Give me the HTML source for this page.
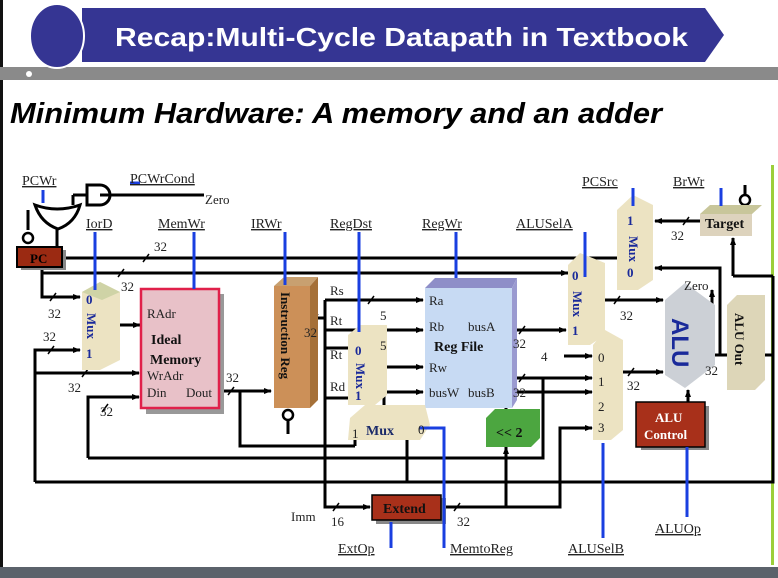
<!DOCTYPE html>
<html><head><style>
html,body{margin:0;padding:0;background:#fff;width:778px;height:578px;overflow:hidden}
svg{display:block}
text{font-family:"Liberation Serif",serif}
</style></head><body>
<svg width="778" height="578" viewBox="0 0 778 578" xmlns="http://www.w3.org/2000/svg">
<defs>
<marker id="a" markerWidth="8" markerHeight="8" refX="7" refY="4" orient="auto" markerUnits="userSpaceOnUse"><path d="M0,1 L8,4 L0,7 z" fill="#000"/></marker>
</defs>
<rect width="778" height="578" fill="#fff"/>
<rect x="0" y="0" width="3" height="578" fill="#111"/>
<rect x="0" y="67" width="778" height="13" fill="#8a8a8a"/>
<polygon points="82,8 705,8 724,35 705,62 82,62" fill="#353593"/>
<ellipse cx="57" cy="36" rx="27" ry="32" fill="#353593" stroke="#fff" stroke-width="2"/>
<circle cx="29" cy="74" r="3" fill="#fff"/>
<text x="115" y="46" font-weight="bold" font-size="26" fill="#fff" textLength="573" lengthAdjust="spacingAndGlyphs" style="font-family:'Liberation Sans',sans-serif">Recap:Multi-Cycle Datapath in Textbook</text>
<text x="10" y="123" font-size="29" font-style="italic" font-weight="bold" fill="#000" textLength="652" lengthAdjust="spacingAndGlyphs" style="font-family:'Liberation Sans',sans-serif">Minimum Hardware: A memory and an adder</text>
<rect x="0" y="567" width="778" height="11" fill="#5b626b"/>
<rect x="771" y="165" width="3" height="400" fill="#9ccf3a"/>

<g stroke="#000" stroke-width="3" fill="none">
<path d="M87,185 h13 a10,10 0 0 1 0,20 h-13 z" fill="#fff"/>
<path d="M73,195 h14"/>
<path d="M100,195 h104"/>
<path d="M35,205 q22,8 45,0 q-5,18 -22,24 q-17,-6 -23,-24z" fill="#fff"/>
<path d="M73,195 v10"/>
<path d="M28,210 v20"/>
<path d="M57,229 v18"/>
<path d="M62,258 h555"/>
<path d="M42,267 v6 h526" marker-end="url(#a)"/>
<path d="M42,273 v24 h38" marker-end="url(#a)"/>
<path d="M100,325 h40" marker-end="url(#a)"/>
<path d="M35,482 V350 h45" marker-end="url(#a)"/>
<path d="M35,373 h104" marker-end="url(#a)"/>
<path d="M88,458 V397 h51" marker-end="url(#a)"/>
<path d="M219,391 h52" marker-end="url(#a)"/>
<path d="M240,391 v55 h115"/>
<path d="M355,446 v-12"/>
<path d="M310,318 h15"/>
<path d="M325,300 V507 h45" marker-end="url(#a)"/>
<path d="M325,300 h98" marker-end="url(#a)"/>
<path d="M325,330 h98" marker-end="url(#a)"/>
<path d="M325,348 h24"/>
<path d="M325,398 h24"/>
<path d="M370,367 h53" marker-end="url(#a)"/>
<path d="M384,405 v-13 h39" marker-end="url(#a)"/>
<path d="M512,330 h54" marker-end="url(#a)"/>
<path d="M512,378 h80" marker-end="url(#a)"/>
<path d="M543,378 v80 H88"/>
<path d="M506,410 V392 h86" marker-end="url(#a)"/>
<path d="M441,507 h119 v-79 h32" marker-end="url(#a)"/>
<path d="M506,507 v-60" marker-end="url(#a)"/>
<path d="M564,356 h28" marker-end="url(#a)"/>
<path d="M590,300 h73" marker-end="url(#a)"/>
<path d="M622,372 h41" marker-end="url(#a)"/>
<path d="M407,440 v42"/>
<path d="M35,482 H773 V276"/>
<path d="M715,355 h12"/>
<path d="M720,355 V268 H655" marker-end="url(#a)"/>
<path d="M712,335 V290" marker-end="url(#a)"/>
<path d="M765,355 h8"/>
<path d="M733,276 h40"/>
<path d="M733,276 V238" marker-end="url(#a)"/>
<path d="M700,221 h-45" marker-end="url(#a)"/>
<path d="M688,402 V390" marker-end="url(#a)"/>
<path d="M745,185 v20"/>
<path d="M288,412 v22"/>
</g>
<circle cx="288" cy="415" r="5" fill="#fff" stroke="#000" stroke-width="2.5"/>
<circle cx="745" cy="200" r="5" fill="#fff" stroke="#000" stroke-width="2.5"/>
<circle cx="28" cy="238" r="5" fill="#fff" stroke="#000" stroke-width="2.5"/>

<g stroke="#000" stroke-width="1.5">
<path d="M143,262 l6,-8 M118,277 l6,-8 M50,301 l6,-8 M48,354 l6,-8 M82,377 l6,-8 M102,412 l6,-8 M228,395 l6,-8 M312,322 l6,-8 M368,304 l6,-8 M368,334 l6,-8 M519,334 l6,-8 M519,382 l6,-8 M614,304 l6,-8 M628,376 l6,-8 M705,359 l6,-8 M683,225 l6,-8 M333,511 l6,-8 M454,511 l6,-8"/>
</g>

<rect x="21" y="250" width="45" height="20" fill="#888"/>
<rect x="17" y="247" width="45" height="20" fill="#9b2a12" stroke="#000" stroke-width="2"/>
<text x="30" y="263" font-size="13" font-weight="bold">PC</text>

<polygon points="82,292 100,282 120,292 120,360 100,370 82,370" fill="#ece3c2"/>
<polygon points="82,292 100,282 120,292 102,300" fill="#cfd3a6"/>
<rect x="146" y="294" width="78" height="120" fill="#999"/>
<rect x="141" y="289" width="78" height="119" fill="#e8c1c8" stroke="#e0204a" stroke-width="2.5"/>
<polygon points="274,286 284,277 318,277 310,286" fill="#c8a070"/>
<rect x="274" y="286" width="36" height="122" fill="#cc9058"/>
<polygon points="310,286 318,277 318,400 310,408" fill="#a57038"/>
<polygon points="348,335 360,325 387,325 387,395 375,405 348,405" fill="#ece3c2"/>
<polygon points="425,288 435,278 517,278 512,288" fill="#8e8ec8"/>
<rect x="425" y="288" width="87" height="120" fill="#c7daf3"/>
<polygon points="512,288 517,278 517,400 512,408" fill="#9a9ad0"/>
<polygon points="568,265 580,253 605,263 605,335 590,345 568,345" fill="#ece3c2"/>
<polygon points="617,210 633,195 653,205 653,280 638,290 617,290" fill="#ece3c2"/>
<polygon points="593,345 605,330 623,340 623,430 611,440 593,440" fill="#ece3c2"/>
<polygon points="700,214 710,205 762,205 752,214" fill="#c8c69a"/>
<rect x="700" y="214" width="52" height="22" fill="#ddd3bd"/>
<polygon points="665,300 685,283 715,305 715,365 685,388 665,375" fill="#ccd0d6"/>
<polygon points="727,305 737,295 765,295 765,380 755,390 727,390" fill="#ddd6b8"/>
<polygon points="350,418 365,405 425,405 430,425 420,440 348,440" fill="#ece3c2"/>
<polygon points="486,418 495,409 540,409 540,438 531,447 486,447" fill="#4ca640"/>
<rect x="641" y="406" width="68" height="44" fill="#888"/>
<rect x="636" y="402" width="69" height="45" fill="#a8301a" stroke="#000" stroke-width="1.5"/>
<rect x="376" y="498" width="70" height="26" fill="#888"/>
<rect x="372" y="495" width="69" height="25" fill="#a8301a" stroke="#000" stroke-width="1.5"/>

<g stroke="#1a3fe0" stroke-width="3" fill="none">
<path d="M43,190 v13 M130,183 h10 M95,232 v58 M194,232 v57 M285,232 v53 M359,232 v100 M456,232 v46 M585,232 v45 M633,188 v18 M721,188 v18 M419,428 h25 v120 M391,522 v26 M603,443 v95 M687,447 v70"/>
</g>

<g font-size="14" fill="#222" text-decoration="underline">
<text x="22" y="185">PCWr</text>
<text x="130" y="183">PCWrCond</text>
<text x="86" y="228">IorD</text>
<text x="158" y="228">MemWr</text>
<text x="251" y="228">IRWr</text>
<text x="330" y="228">RegDst</text>
<text x="422" y="228">RegWr</text>
<text x="516" y="228">ALUSelA</text>
<text x="582" y="186">PCSrc</text>
<text x="673" y="186">BrWr</text>
<text x="338" y="553">ExtOp</text>
<text x="450" y="553">MemtoReg</text>
<text x="568" y="553">ALUSelB</text>
<text x="655" y="533">ALUOp</text>
</g>
<g font-size="13" fill="#222">
<text x="205" y="204">Zero</text>
<text x="154" y="251">32</text>
<text x="121" y="291">32</text>
<text x="48" y="318">32</text>
<text x="43" y="341">32</text>
<text x="68" y="392">32</text>
<text x="100" y="416">32</text>
<text x="226" y="382">32</text>
<text x="304" y="337">32</text>
<text x="380" y="320">5</text>
<text x="380" y="350">5</text>
<text x="513" y="348">32</text>
<text x="513" y="397">32</text>
<text x="620" y="320">32</text>
<text x="627" y="390">32</text>
<text x="705" y="375">32</text>
<text x="671" y="240">32</text>
<text x="330" y="295">Rs</text>
<text x="330" y="325">Rt</text>
<text x="330" y="359">Rt</text>
<text x="330" y="391">Rd</text>
<text x="147" y="318">RAdr</text>
<text x="147" y="380">WrAdr</text>
<text x="147" y="397">Din</text>
<text x="186" y="397">Dout</text>
<text x="429" y="305">Ra</text>
<text x="429" y="331">Rb</text>
<text x="468" y="331">busA</text>
<text x="429" y="372">Rw</text>
<text x="429" y="397">busW</text>
<text x="468" y="397">busB</text>
<text x="541" y="361">4</text>
<text x="598" y="362">0</text>
<text x="598" y="386">1</text>
<text x="598" y="411">2</text>
<text x="598" y="432">3</text>
<text x="684" y="290">Zero</text>
<text x="291" y="521">Imm</text>
<text x="331" y="526">16</text>
<text x="457" y="526">32</text>
<text x="352" y="438">1</text>
<text x="418" y="434">0</text>
</g>
<g font-size="14" font-weight="bold" fill="#111">
<text x="151" y="344">Ideal</text>
<text x="150" y="364">Memory</text>
<text x="434" y="351">Reg File</text>
<text x="705" y="228">Target</text>
<text x="366" y="435" fill="#1a2a6a">Mux</text>
<text x="496" y="437">&lt;&lt; 2</text>
<text x="383" y="513">Extend</text>
<text x="655" y="422" fill="#fff" font-size="13">ALU</text>
<text x="644" y="439" fill="#fff" font-size="13">Control</text>
</g>
<g font-size="13" font-weight="bold" fill="#1a2a9a">
<text x="86" y="304">0</text><text x="86" y="358">1</text>
<text x="355" y="355">0</text><text x="355" y="400">1</text>
<text x="572" y="280">0</text><text x="572" y="335">1</text>
<text x="627" y="225">1</text><text x="627" y="277">0</text>
<text transform="translate(87,313) rotate(90)">Mux</text>
<text transform="translate(356,363) rotate(90)">Mux</text>
<text transform="translate(573,291) rotate(90)">Mux</text>
<text transform="translate(629,236) rotate(90)">Mux</text>
<text transform="translate(672,318) rotate(90)" font-size="24" style="font-family:'Liberation Sans',sans-serif">ALU</text>
</g>
<g font-size="13" font-weight="bold" fill="#111">
<text transform="translate(281,292) rotate(90)">Instruction Reg</text>
<text transform="translate(735,313) rotate(90)">ALU Out</text>
</g>
</svg>
</body></html>
